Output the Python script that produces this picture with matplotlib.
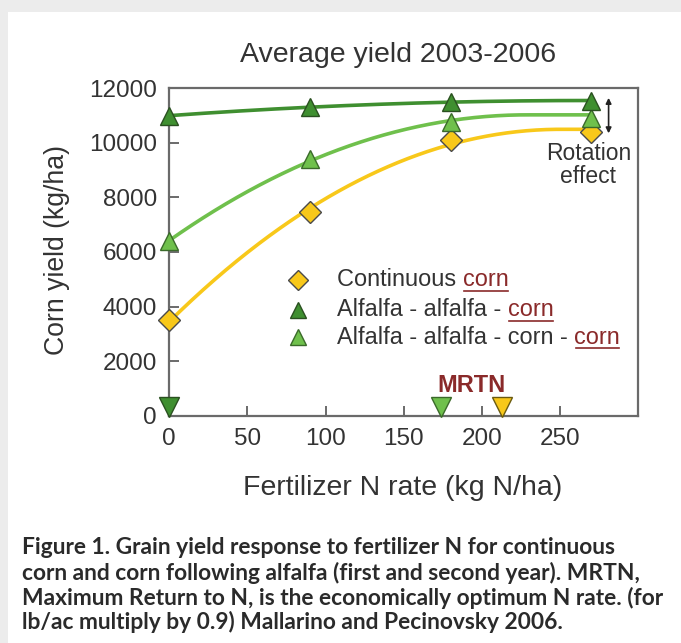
import numpy as np
import matplotlib
matplotlib.use("Agg")
import matplotlib.pyplot as plt
from matplotlib.patches import Rectangle

# ---------------- data ----------------
n_rate = [0, 90, 180, 270]
cont_corn = [3500, 7450, 10100, 10400]
aac = [11000, 11300, 11500, 11550]
aacc = [6400, 9400, 10750, 10900]

mrtn_x = [0, 174, 213]          # dark green, light green, yellow
mrtn_series = ["aac", "aacc", "cont"]

xticks = [0, 50, 100, 150, 200, 250]
yticks = [0, 2000, 4000, 6000, 8000, 10000, 12000]

title = "Average yield 2003-2006"
xlabel = "Fertilizer N rate (kg N/ha)"
ylabel = "Corn yield (kg/ha)"
caption = ["Figure 1. Grain yield response to fertilizer N for continuous",
           "corn and corn following alfalfa (first and second year). MRTN,",
           "Maximum Return to N, is the economically optimum N rate. (for",
           "lb/ac multiply by 0.9) Mallarino and Pecinovsky 2006."]

# ---------------- style ----------------
YEL = "#f8c81a"
DG = "#3f8f30"
LG = "#6fc04c"
EDGE = "#4a4a4a"
TXT = "#333333"
RED = "#8a2a2a"
AX = "#6a6a6a"
FONT = "Liberation Sans"

fig = plt.figure(figsize=(6.81, 6.43), dpi=100)
fig.patch.set_facecolor("#ececec")
# white panel
fig.patches.append(Rectangle((8 / 681, 0), 1, 1 - 12 / 643, transform=fig.transFigure,
                             facecolor="white", edgecolor="none", zorder=-5))

ax = fig.add_axes([169.3 / 681, 1 - 415.7 / 643, (638.3 - 169.3) / 681, (415.7 - 88.3) / 643])
ax.set_facecolor("none")
ax.set_xlim(0, 300)
ax.set_ylim(0, 12000)
for s in ax.spines.values():
    s.set_color(AX)
    s.set_linewidth(1.6)
ax.set_xticks(xticks)
ax.set_yticks(yticks)
ax.tick_params(direction="in", length=7, width=1.4, color=AX, labelsize=17.5,
               labelcolor=TXT, pad=9)
for lab in ax.get_xticklabels() + ax.get_yticklabels():
    lab.set_family(FONT)

# fitted curves (quadratic with plateau)
xs = np.linspace(0, 270, 300)
def fit_curve(y):
    c = np.polyfit(n_rate, y, 2)
    yy = np.polyval(c, xs)
    if c[0] < 0:
        xv = -c[1] / (2 * c[0])
        if xv < 270:
            yy = np.where(xs > xv, np.polyval(c, xv), yy)
    return yy

ax.plot(xs, fit_curve(cont_corn), color=YEL, lw=2.6, zorder=2)
ax.plot(xs, fit_curve(aacc), color=LG, lw=2.6, zorder=2)
ax.plot(xs, fit_curve(aac), color=DG, lw=2.6, zorder=2)

ax.plot(n_rate, cont_corn, "D", ms=11, mfc=YEL, mec=EDGE, mew=1.0, ls="none", clip_on=False, zorder=4)
ax.plot(n_rate, aacc, "^", ms=13, mfc=LG, mec="#3a6a2a", mew=1.0, ls="none", clip_on=False, zorder=4)
ax.plot(n_rate, aac, "^", ms=13, mfc=DG, mec="#2a5020", mew=1.0, ls="none", clip_on=False, zorder=4)

# MRTN markers
mcol = {"aac": (DG, "#2a5020"), "aacc": (LG, "#3a6a2a"), "cont": (YEL, "#6a5a10")}
for x, s in zip(mrtn_x, mrtn_series):
    ax.plot([x], [330], "v", ms=14.5, mfc=mcol[s][0], mec=mcol[s][1], mew=1.0,
            clip_on=False, zorder=5)
ax.text(193, 1125, "MRTN", color=RED, fontsize=17, fontweight="bold", family=FONT,
        ha="center", va="center")

# rotation effect
ax.annotate("", xy=(281, 11650), xytext=(281, 10350),
            arrowprops=dict(arrowstyle="<|-|>", color="#222222", lw=1.2,
                            mutation_scale=8, shrinkA=0, shrinkB=0))
ax.text(268, 9200, "Rotation\neffect", ha="center", va="center", fontsize=16.5,
        color=TXT, family=FONT, linespacing=1.0)

# legend (manual)
fig.canvas.draw()
renderer = fig.canvas.get_renderer()
leg_rows = [("D", YEL, EDGE, 10, ["Continuous ", "corn"]),
            ("^", DG, "#2a5020", 11, ["Alfalfa - alfalfa - ", "corn"]),
            ("^", LG, "#3a6a2a", 11, ["Alfalfa - alfalfa - corn - ", "corn"])]
leg_y = [280, 310, 337]
for (m, fc, ec, ms, parts), py in zip(leg_rows, leg_y):
    yfig = 1 - py / 643
    ax.plot([298 / 681], [yfig], m, ms=ms, mfc=fc, mec=ec, mew=1.0,
            transform=fig.transFigure, clip_on=False)
    t1 = fig.text(337 / 681, yfig, parts[0], fontsize=16.9, color=TXT, family=FONT,
                  ha="left", va="center")
    bb = t1.get_window_extent(renderer)
    t2 = fig.text(bb.x1 / fig.bbox.width, yfig, parts[1], fontsize=16.9, color=RED,
                  family=FONT, ha="left", va="center")
    bb2 = t2.get_window_extent(renderer)
    uy = (bb2.y0 + 1) / fig.bbox.height
    fig.add_artist(plt.Line2D([bb2.x0 / fig.bbox.width + 0.002, bb2.x1 / fig.bbox.width - 0.001],
                              [uy, uy], transform=fig.transFigure, color=RED, lw=1.2))

# labels / title
fig.text(398 / 681, 1 - 55 / 643, title, ha="center", va="center", fontsize=20.5,
         color=TXT, family=FONT)
fig.text(403 / 681, 1 - 488 / 643, xlabel, ha="center", va="center", fontsize=20.5,
         color=TXT, family=FONT)
fig.text(57 / 681, 1 - 250 / 643, ylabel, ha="center", va="center", rotation=90,
         fontsize=19.2, color=TXT, family=FONT)

# caption
cap_y = [548, 573, 598, 622]
for line, py in zip(caption, cap_y):
    fig.text(22 / 681, 1 - py / 643, line, ha="left", va="center", fontsize=16.4,
             fontweight="bold", color="#2a2a2a", family="Lato")

fig.savefig("out.png", dpi=100, facecolor=fig.get_facecolor())
